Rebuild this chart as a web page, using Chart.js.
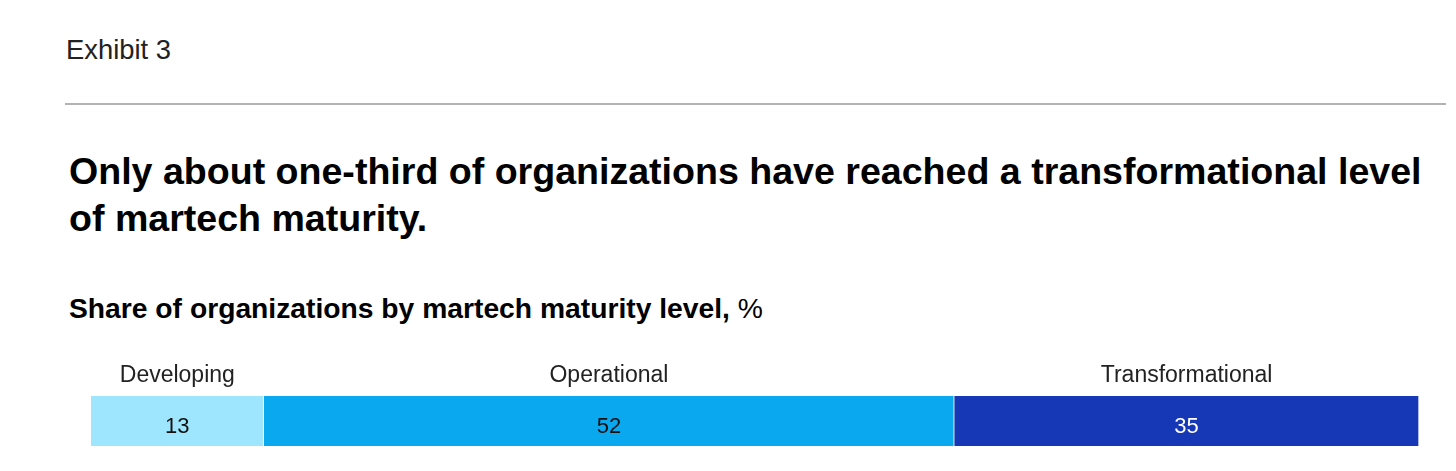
<!DOCTYPE html>
<html>
<head>
<meta charset="utf-8">
<script src="https://cdn.jsdelivr.net/npm/chart.js@4.4.1/dist/chart.umd.min.js"></script>
<style>
  html, body { margin: 0; padding: 0; background: #fff; }
  body { width: 1456px; height: 471px; position: relative; overflow: hidden; font-family: "Liberation Sans", Arial, sans-serif; color: #000; }
  .txt { position: absolute; white-space: nowrap; line-height: 1; }
  #exhibit { left: 66px; font-size: 27px; font-weight: 400; color: #222; }
  #rule { position: absolute; left: 65px; top: 103px; width: 1381px; height: 2px; background: #b3b3b3; }
  #title1, #title2 { left: 69px; font-size: 34px; font-weight: 700; color: #000; }
  #subtitle { left: 69px; font-size: 26px; font-weight: 700; color: #000; }
  #subtitle span { font-weight: 400; }
  #wrap { position: absolute; left: 0; top: 340px; width: 1456px; height: 120px; }
</style>
</head>
<body>
<div class="txt" id="exhibit">Exhibit 3</div>
<div id="rule"></div>
<div class="txt" id="title1">Only about one-third of organizations have reached a transformational level</div>
<div class="txt" id="title2">of martech maturity.</div>
<div class="txt" id="subtitle">Share of organizations by martech maturity level, <span>%</span></div>
<div id="wrap"><canvas id="bar"></canvas></div>
<script>
// data
const levels = ['Developing', 'Operational', 'Transformational'];
const shares = [13, 52, 35];
const colors = ['#9ee6fd', '#0aa8ef', '#1637b6'];
const textColors = ['#111', '#111', '#fff'];

// size text to the measured width and sit it on a baseline
function place(id, baseline, width, size) {
  const el = document.getElementById(id);
  let fs = size || parseFloat(getComputedStyle(el).fontSize);
  if (width) {
    fs = fs * width / el.getBoundingClientRect().width;
    el.style.fontSize = fs + 'px';
  }
  el.style.top = (baseline - 0.8465 * fs) + 'px';
  return fs;
}
place('exhibit', 59, 105);
const tfs = place('title1', 185, 1353);
place('title2', 232, 0, tfs);
document.getElementById('title2').style.fontSize = tfs + 'px';
place('subtitle', 318, 694);

// labels above each segment and the value inside it
const segmentText = {
  id: 'segmentText',
  afterDatasetsDraw(chart) {
    const ctx = chart.ctx;
    const x = chart.scales.x;
    const area = chart.chartArea;
    let start = 0;
    ctx.save();
    ctx.textAlign = 'center';
    ctx.textBaseline = 'alphabetic';
    levels.forEach((name, i) => {
      const mid = x.getPixelForValue(start + shares[i] / 2);
      ctx.font = '400 23px "Liberation Sans", Arial, sans-serif';
      ctx.fillStyle = '#222';
      ctx.fillText(name, mid, area.top - 14);
      ctx.font = '400 22px "Liberation Sans", Arial, sans-serif';
      ctx.fillStyle = textColors[i];
      ctx.fillText(String(shares[i]), mid, area.bottom - 13);
      start += shares[i];
    });
    ctx.restore();
  }
};

new Chart(document.getElementById('bar'), {
  type: 'bar',
  data: {
    labels: [''],
    datasets: levels.map((name, i) => ({
      label: name,
      data: [shares[i]],
      backgroundColor: colors[i],
      borderColor: '#ffffff',
      borderWidth: { left: 0, right: 1, top: 0, bottom: 0 },
      borderSkipped: false,
      barPercentage: 1,
      categoryPercentage: 1
    }))
  },
  options: {
    indexAxis: 'y',
    responsive: true,
    maintainAspectRatio: false,
    animation: false,
    layout: { padding: { left: 91, right: 37, top: 56, bottom: 14 } },
    plugins: { legend: { display: false }, tooltip: { enabled: false } },
    scales: {
      x: { stacked: true, min: 0, max: 100, display: false },
      y: { stacked: true, display: false }
    }
  },
  plugins: [segmentText]
});
</script>
</body>
</html>
